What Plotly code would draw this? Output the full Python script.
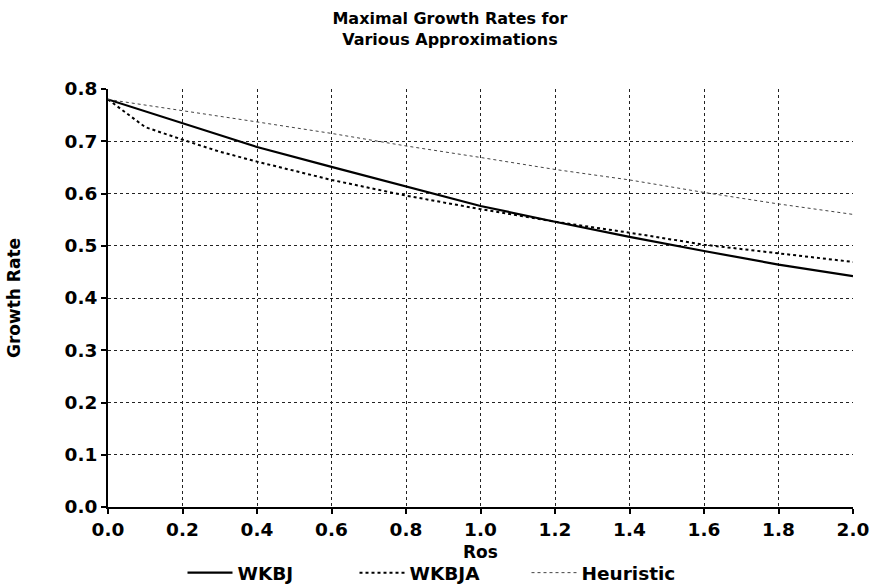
import plotly.graph_objects as go

ros_wkbj = [0.0, 0.2, 0.4, 0.6, 0.8, 1.0, 1.2, 1.4, 1.6, 1.8, 2.0]
wkbj = [0.780, 0.734, 0.689, 0.651, 0.613, 0.576, 0.546, 0.517, 0.490, 0.464, 0.442]

ros_wkbja = [0.0, 0.05, 0.1, 0.2, 0.3, 0.4, 0.6, 0.8, 1.0, 1.2, 1.4, 1.6, 1.8, 2.0]
wkbja = [0.780, 0.754, 0.727, 0.703, 0.680, 0.661, 0.626, 0.596, 0.570, 0.546, 0.525, 0.502, 0.486, 0.469]

ros_heur = [0.0, 0.2, 0.4, 0.6, 0.8, 1.0, 1.2, 1.4, 1.6, 1.8, 2.0]
heuristic = [0.780, 0.759, 0.737, 0.715, 0.691, 0.669, 0.646, 0.626, 0.602, 0.580, 0.560]

x_ticks = [0.0, 0.2, 0.4, 0.6, 0.8, 1.0, 1.2, 1.4, 1.6, 1.8, 2.0]
y_ticks = [0.0, 0.1, 0.2, 0.3, 0.4, 0.5, 0.6, 0.7, 0.8]

FONT = "DejaVu Sans"

fig = go.Figure()
fig.add_trace(go.Scatter(x=ros_wkbj, y=wkbj, mode="lines", name="WKBJ",
                         line=dict(color="black", width=2.2)))
fig.add_trace(go.Scatter(x=ros_wkbja, y=wkbja, mode="lines", name="WKBJA",
                         line=dict(color="black", width=2, dash="dot")))
fig.add_trace(go.Scatter(x=ros_heur, y=heuristic, mode="lines", name="Heuristic",
                         line=dict(color="#444444", width=1, dash="dot")))

fig.update_layout(
    width=872, height=586,
    paper_bgcolor="white", plot_bgcolor="white",
    margin=dict(l=108, r=19, t=89, b=79),
    font=dict(family=FONT, color="black", weight="bold"),
    title=dict(text="Maximal Growth Rates for<br>Various Approximations",
               x=0.516, xanchor="center", y=0.959, yanchor="top",
               font=dict(family=FONT, size=16, color="black", weight="bold")),
    showlegend=True,
    legend=dict(orientation="h", x=0.10, xanchor="left",
                yref="container", y=0.022, yanchor="middle",
                font=dict(family=FONT, size=18.5, color="black", weight="bold"),
                itemwidth=45, entrywidth=112, bgcolor="rgba(0,0,0,0)"),
    xaxis=dict(range=[0, 2.0], tickvals=x_ticks, tickformat=".1f",
               showline=True, linecolor="black", linewidth=2,
               ticks="outside", ticklen=5, tickcolor="black", tickwidth=1.5,
               showgrid=True, gridcolor="#222222", gridwidth=1, griddash="dot",
               zeroline=False, automargin=False,
               tickfont=dict(family=FONT, size=18.5, color="black", weight="bold")),
    yaxis=dict(range=[0, 0.8], tickvals=y_ticks, tickformat=".1f",
               showline=True, linecolor="black", linewidth=2,
               ticks="outside", ticklen=5, tickcolor="black", tickwidth=1.5,
               showgrid=True, gridcolor="#222222", gridwidth=1, griddash="dot",
               zeroline=False, automargin=False,
               tickfont=dict(family=FONT, size=18.5, color="black", weight="bold"),
               title=dict(text="Growth Rate", standoff=40,
                          font=dict(family=FONT, size=17, color="black", weight="bold"))),
    annotations=[dict(text="Ros", xref="paper", yref="paper", x=0.5, y=-0.108,
                      xanchor="center", yanchor="middle", showarrow=False,
                      font=dict(family=FONT, size=17, color="black", weight="bold"))],
)

fig.write_html("out.html", config={"displayModeBar": False},
               post_script="document.body.style.margin='0';document.body.style.overflow='hidden';")
